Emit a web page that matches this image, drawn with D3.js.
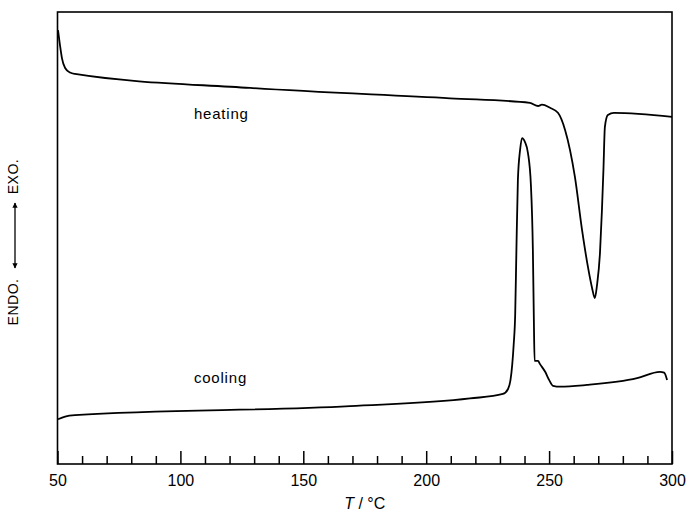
<!DOCTYPE html>
<html>
<head>
<meta charset="utf-8">
<script src="https://cdn.jsdelivr.net/npm/d3@7"></script>
<style>
  body { margin: 0; background: #fff; }
  svg { display: block; }
  text { font-family: "Liberation Sans", Arial, sans-serif; fill: #000; }
</style>
</head>
<body>
<div id="chart"></div>
<script>
// DSC traces, signal in arbitrary units (0 = bottom of frame, 100 = top)
const heatingT = [50.2, 51.0, 51.8, 53.1, 55.1, 57.1, 128.3, 209.7, 242.2, 245.5, 247.1, 250.4, 253.6, 256.5, 260.5, 263.4, 265.8, 267.5, 268.6, 269.5, 270.7, 271.5, 272.1, 272.7, 273.9, 276.4, 300];
const heatingS = [96.0, 92.7, 89.8, 87.6, 86.6, 86.3, 83.2, 80.9, 79.9, 79.2, 79.5, 78.8, 77.7, 73.9, 63.5, 51.8, 43.6, 38.9, 36.7, 39.6, 46.7, 56.2, 65.0, 74.6, 77.2, 77.7, 76.8];

const coolingT = [50.2, 53.1, 57.1, 169, 217.8, 231.2, 233.3, 234.3, 235.0, 235.6, 236.2, 236.7, 237.3, 238.2, 239.0, 240.2, 241.4, 242.6, 243.4, 243.8, 244.1, 245.5, 246.3, 248.4, 250.0, 251.6, 254.5, 265.4, 285.8, 295.1, 296.8, 298.0];
const coolingS = [9.9, 10.5, 10.8, 12.8, 14.5, 15.5, 16.6, 18.6, 22.0, 26.5, 33.0, 47.3, 62.8, 69.5, 72.1, 71.2, 68.8, 61.7, 47.3, 31.9, 22.8, 22.8, 22.1, 20.4, 18.6, 17.3, 17.1, 17.5, 19.0, 20.4, 20.2, 18.6];

const majorTicks = [50, 100, 150, 200, 250, 300];
const minorTicks = d3.range(60, 300, 10).filter(t => t % 50 !== 0);

const labels = [
  { text: "heating", T: 105.5, s: 76.3 },
  { text: "cooling", T: 105.5, s: 17.9 }
];

const width = 690, height = 513;
const margin = { top: 12, right: 18, bottom: 49, left: 57.5 };

const svg = d3.select("#chart").append("svg")
  .attr("width", width)
  .attr("height", height);

const x = d3.scaleLinear()
  .domain([50, 300])
  .range([margin.left, width - margin.right]);

const y = d3.scaleLinear()
  .domain([0, 100])
  .range([height - margin.bottom, margin.top]);

// frame
svg.append("rect")
  .attr("x", x(50))
  .attr("y", y(100))
  .attr("width", x(300) - x(50))
  .attr("height", y(0) - y(100))
  .attr("fill", "none")
  .attr("stroke", "#000")
  .attr("stroke-width", 1.6);

// minor ticks, pointing up into the plot
svg.append("g")
  .attr("transform", "translate(0," + y(0) + ")")
  .call(d3.axisBottom(x).tickValues(minorTicks).tickSizeInner(-8).tickSizeOuter(0).tickFormat(""))
  .call(g => g.select(".domain").remove())
  .call(g => g.selectAll("line").attr("stroke-width", 1.5));

// major ticks with labels
svg.append("g")
  .attr("transform", "translate(0," + y(0) + ")")
  .call(d3.axisBottom(x).tickValues(majorTicks).tickSizeInner(-13).tickSizeOuter(0).tickPadding(10.6).tickFormat(d3.format("d")))
  .call(g => g.select(".domain").remove())
  .call(g => g.selectAll("line").attr("stroke-width", 1.5))
  .call(g => g.selectAll("text").attr("font-size", 16).attr("font-family", "Liberation Sans, Arial, sans-serif"));

// x axis title
const xt = svg.append("text")
  .attr("x", (x(50) + x(300)) / 2)
  .attr("y", 509)
  .attr("text-anchor", "middle")
  .attr("font-size", 16);
xt.append("tspan").attr("font-style", "italic").text("T");
xt.append("tspan").text(" / °C");

// y axis title: ENDO. <-> EXO.
const yl = svg.append("g").attr("transform", "translate(17.5,0)");
yl.append("text")
  .attr("transform", "translate(0,302) rotate(-90)")
  .attr("text-anchor", "middle")
  .attr("font-size", 14)
  .attr("letter-spacing", 0.5)
  .text("ENDO.");
yl.append("text")
  .attr("transform", "translate(0,176.5) rotate(-90)")
  .attr("text-anchor", "middle")
  .attr("font-size", 14)
  .attr("letter-spacing", 0.5)
  .text("EXO.");

const defs = svg.append("defs");
defs.append("marker")
  .attr("id", "arr")
  .attr("viewBox", "0 0 10 10")
  .attr("refX", 9).attr("refY", 5)
  .attr("markerWidth", 4).attr("markerHeight", 5)
  .attr("orient", "auto-start-reverse")
  .append("path")
  .attr("d", "M0,0L10,5L0,10z")
  .attr("fill", "#000");

yl.append("line")
  .attr("x1", -2.5).attr("x2", -2.5)
  .attr("y1", 268).attr("y2", 203)
  .attr("stroke", "#000")
  .attr("stroke-width", 1.3)
  .attr("marker-start", "url(#arr)")
  .attr("marker-end", "url(#arr)");

// traces
const line = d3.line()
  .x(d => x(d[0]))
  .y(d => y(d[1]))
  .curve(d3.curveMonotoneX);

const heating = heatingT.map((t, i) => [t, heatingS[i]]);
const cooling = coolingT.map((t, i) => [t, coolingS[i]]);

svg.append("path")
  .datum(heating)
  .attr("d", line)
  .attr("fill", "none")
  .attr("stroke", "#000")
  .attr("stroke-width", 1.8);

svg.append("path")
  .datum(cooling)
  .attr("d", line)
  .attr("fill", "none")
  .attr("stroke", "#000")
  .attr("stroke-width", 1.8);

svg.selectAll(".lbl")
  .data(labels)
  .enter().append("text")
  .attr("class", "lbl")
  .attr("x", d => x(d.T))
  .attr("y", d => y(d.s))
  .attr("font-size", 15)
  .attr("letter-spacing", 0.8)
  .text(d => d.text);
</script>
</body>
</html>
